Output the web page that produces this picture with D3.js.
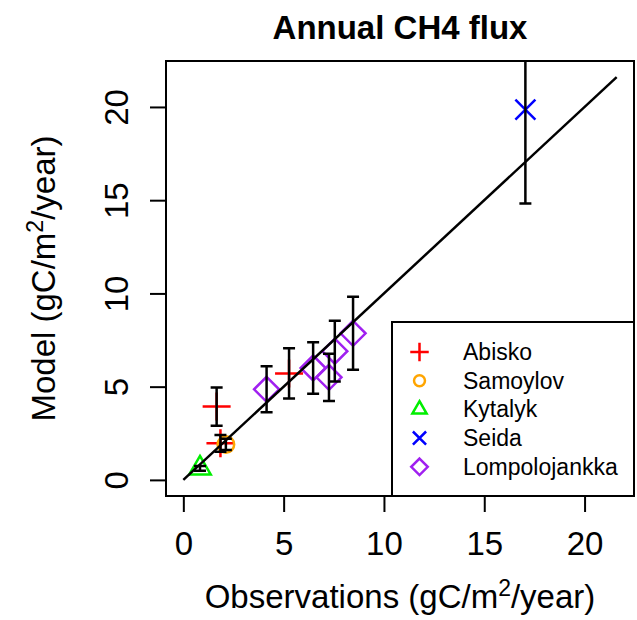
<!DOCTYPE html>
<html>
<head>
<meta charset="utf-8">
<script src="https://cdn.jsdelivr.net/npm/d3@7"></script>
<style>
  body { margin: 0; background: #fff; }
  text { font-family: "Liberation Sans", Arial, Helvetica, sans-serif; fill: #000; }
</style>
</head>
<body>
<div id="chart"></div>
<script>
// Sites and their colours / plot symbols
const sites = ["Abisko", "Samoylov", "Kytalyk", "Seida", "Lompolojankka"];
const siteColors = ["#FF0000", "#FFA500", "#00EE00", "#0000FF", "#A020F0"];
const siteShapes = ["plus", "circle", "triangle", "cross", "diamond"];

// One entry per site-year
const pointSite = [0, 0, 0, 1, 2, 3, 4, 4, 4, 4, 4];
const obsValues = [1.66, 1.85, 5.27, 2.12, 0.83, 17.05, 4.15, 6.47, 7.26, 7.55, 8.46];
const modelValues = [3.93, 1.96, 5.71, 1.9, 0.62, 19.86, 4.86, 6.0, 5.5, 6.9, 7.86];
const modelSd = [1.03, 0.45, 1.35, 0.3, 0.13, 5.04, 1.23, 1.38, 1.27, 1.63, 1.96];

const tickValues = [0, 5, 10, 15, 20];
const axisLimit = [0, 21.6];

const margin = { top: 61, right: 3, bottom: 124, left: 166 };
const W = 637, H = 620;
const width = W - margin.left - margin.right;
const height = H - margin.top - margin.bottom;

const svg = d3.select("#chart").append("svg")
    .attr("width", W)
    .attr("height", H);

const g = svg.append("g")
    .attr("transform", `translate(${margin.left},${margin.top})`);

// R style 4% padding on the limits
const pad = (axisLimit[1] - axisLimit[0]) * 0.04;
const x = d3.scaleLinear().domain([axisLimit[0] - pad, axisLimit[1] + pad]).range([0, width]);
const y = d3.scaleLinear().domain([axisLimit[0] - pad, axisLimit[1] + pad]).range([height, 0]);

// R like symbol paths (s = size)
function symbolPath(shape, s) {
    if (shape === "plus") return `M${-s},0H${s}M0,${-s}V${s}`;
    if (shape === "cross") return `M${-s},${-s}L${s},${s}M${-s},${s}L${s},${-s}`;
    if (shape === "circle") return `M${s},0A${s},${s} 0 1,1 ${-s},0A${s},${s} 0 1,1 ${s},0Z`;
    if (shape === "diamond") return `M0,${-s}L${s},0L0,${s}L${-s},0Z`;
    if (shape === "triangle") {
        const r = 1.555 * s, h = 1.3468 * s, yc = 0.7776 * s;
        return `M0,${-r}L${h},${yc}L${-h},${yc}Z`;
    }
}
const plotSize = { plus: 14, cross: 10, circle: 8.3, diamond: 12.5, triangle: 8 };

svg.append("clipPath").attr("id", "plotclip")
  .append("rect").attr("width", width).attr("height", height);

const plotArea = g.append("g").attr("clip-path", "url(#plotclip)");

const data = obsValues.map((o, i) => ({
    site: pointSite[i], obs: o, model: modelValues[i], sd: modelSd[i]
}));

// points
plotArea.selectAll(".pt")
    .data(data)
    .join("path")
    .attr("class", "pt")
    .attr("transform", d => `translate(${x(d.obs)},${y(d.model)})`)
    .attr("d", d => symbolPath(siteShapes[d.site], plotSize[siteShapes[d.site]]))
    .attr("fill", "none")
    .attr("stroke", d => siteColors[d.site])
    .attr("stroke-width", 2.5);

// error bars
const cap = 6;
plotArea.selectAll(".err")
    .data(data)
    .join("path")
    .attr("class", "err")
    .attr("d", d => {
        const cx = x(d.obs), y1 = y(d.model + d.sd), y0 = y(d.model - d.sd);
        return `M${cx},${y1}V${y0}M${cx - cap},${y1}H${cx + cap}M${cx - cap},${y0}H${cx + cap}`;
    })
    .attr("fill", "none")
    .attr("stroke", "#000")
    .attr("stroke-width", 2.5);

// 1:1 line
plotArea.append("line")
    .attr("x1", x(axisLimit[0])).attr("y1", y(axisLimit[0]))
    .attr("x2", x(axisLimit[1])).attr("y2", y(axisLimit[1]))
    .attr("stroke", "#000")
    .attr("stroke-width", 2.5);

// axes
const xAxis = g.append("g")
    .attr("transform", `translate(0,${height})`)
    .call(d3.axisBottom(x).tickValues(tickValues).tickSize(16).tickSizeOuter(0).tickPadding(0).tickFormat(d3.format("d")));
xAxis.select(".domain").remove();
xAxis.selectAll("line").attr("stroke-width", 2);
xAxis.selectAll("text")
    .attr("y", 59).attr("dy", null)
    .style("font-size", "33px")
    .style("font-family", "'Liberation Sans', Arial, sans-serif");

const yAxis = g.append("g")
    .call(d3.axisLeft(y).tickValues(tickValues).tickSize(16).tickSizeOuter(0).tickFormat(d3.format("d")));
yAxis.select(".domain").remove();
yAxis.selectAll("line").attr("stroke-width", 2);
yAxis.selectAll("text")
    .attr("x", null).attr("dy", null)
    .attr("text-anchor", "middle")
    .attr("transform", "translate(-38,0) rotate(-90)")
    .style("font-size", "33px")
    .style("font-family", "'Liberation Sans', Arial, sans-serif");

// box
g.append("rect")
    .attr("width", width).attr("height", height)
    .attr("fill", "none").attr("stroke", "#000").attr("stroke-width", 2);

// title
svg.append("text")
    .attr("x", margin.left + width / 2)
    .attr("y", 39)
    .attr("text-anchor", "middle")
    .style("font-size", "33px")
    .style("font-weight", "bold")
    .text("Annual CH4 flux");

// axis labels with superscript
function unitLabel(sel, prefix) {
    sel.append("tspan").text(prefix + " (gC/m");
    sel.append("tspan").attr("dy", -12).style("font-size", "23px").text("2");
    sel.append("tspan").attr("dy", 12).text("/year)");
}
const xl = svg.append("text")
    .attr("x", margin.left + width / 2)
    .attr("y", 608)
    .attr("text-anchor", "middle")
    .style("font-size", "33px");
unitLabel(xl, "Observations");

const yl = svg.append("text")
    .attr("transform", `translate(55,${margin.top + height / 2}) rotate(-90)`)
    .attr("text-anchor", "middle")
    .style("font-size", "33px");
unitLabel(yl, "Model");

// legend, bottom right
const legW = 242, legH = 174, rowH = 28.7;
const legend = g.append("g")
    .attr("transform", `translate(${width - legW},${height - legH})`);
legend.append("rect")
    .attr("width", legW).attr("height", legH)
    .attr("fill", "#fff").attr("stroke", "#000").attr("stroke-width", 2);

sites.forEach((name, i) => {
    const row = legend.append("g")
        .attr("transform", `translate(0,${30 + i * rowH})`);
    row.append("path")
        .attr("transform", "translate(27.5,0)")
        .attr("d", symbolPath(siteShapes[i], plotSize[siteShapes[i]] * 0.66))
        .attr("fill", "none")
        .attr("stroke", siteColors[i])
        .attr("stroke-width", 2.5);
    row.append("text")
        .attr("x", 71)
        .attr("y", 8)
        .style("font-size", "23px")
        .text(name);
});
</script>
</body>
</html>
